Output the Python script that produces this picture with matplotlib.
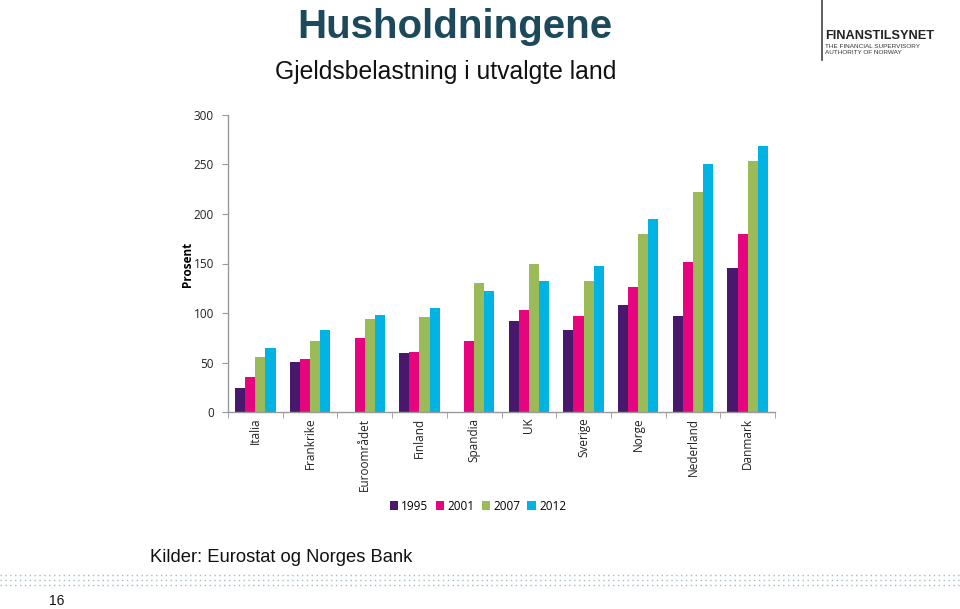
import matplotlib
matplotlib.use("Agg")
import matplotlib.pyplot as plt
import numpy as np

categories = ["Italia", "Frankrike", "Euroområdet", "Finland", "Spandia", "UK",
              "Sverige", "Norge", "Nederland", "Danmark"]
years = ["1995", "2001", "2007", "2012"]
v1995 = [24, 51, np.nan, 60, np.nan, 92, 83, 108, 97, 145]
v2001 = [35, 54, 75, 61, 72, 103, 97, 126, 152, 180]
v2007 = [56, 72, 94, 96, 130, 149, 132, 180, 222, 254]
v2012 = [65, 83, 98, 105, 122, 132, 147, 195, 250, 269]
series = [v1995, v2001, v2007, v2012]
colors = ["#47186B", "#E6057F", "#9BBB59", "#00B3E3"]
yticks = [0, 50, 100, 150, 200, 250, 300]

W, H = 960, 609
fig = plt.figure(figsize=(9.6, 6.09), dpi=100)

def fx(px):
    return px / W

def fy(py):
    return 1 - py / H

left, right, top, bottom = 228, 775, 115, 412
ax = fig.add_axes([fx(left), fy(bottom), fx(right - left), (bottom - top) / H])

x = np.arange(len(categories))
bw = 0.185
for i, (vals, c) in enumerate(zip(series, colors)):
    ax.bar(x + (i - 1.5) * bw, vals, width=bw, color=c, label=years[i], linewidth=0)

ax.set_xlim(-0.5, len(categories) - 0.5)
ax.set_ylim(0, 300)
ax.set_yticks(yticks)
ax.set_yticklabels([str(t) for t in yticks], fontsize=8.5, family="Open Sans", color="#222222")
ax.set_xticks(x)
ax.set_xticklabels(categories, rotation=90, fontsize=8.5, family="Open Sans", color="#222222", va="top")
ax.set_xticks(np.arange(-0.5, len(categories), 1), minor=True)
ax.tick_params(axis="x", which="major", length=0, pad=4)
ax.tick_params(axis="x", which="minor", length=4, color="#999999", direction="out")
ax.tick_params(axis="y", length=4, color="#999999", direction="out", pad=6)
for s in ["top", "right"]:
    ax.spines[s].set_visible(False)
for s in ["left", "bottom"]:
    ax.spines[s].set_color("#999999")
    ax.spines[s].set_linewidth(1.0)

ax.set_ylabel("Prosent", fontsize=8.5, family="Open Sans", fontweight="bold")
ax.yaxis.set_label_coords(-(228 - 194) / (775 - 228), (412 - 264) / (412 - 115))

leg = fig.legend(loc="center", bbox_to_anchor=(fx(478), fy(506)), ncol=4, frameon=False,
                 prop={"family": "Open Sans", "size": 8.5}, handlelength=0.7, handleheight=0.7,
                 handletextpad=0.3, columnspacing=0.6)

fig.text(fx(455), fy(27), "Husholdningene", ha="center", va="center", fontsize=29,
         fontweight="bold", family="Liberation Sans", color="#1C4A5C")
fig.text(fx(446), fy(72), "Gjeldsbelastning i utvalgte land", ha="center", va="center",
         fontsize=17.8, family="Liberation Sans", color="#111111")
fig.text(fx(150), fy(558), "Kilder: Eurostat og Norges Bank", ha="left", va="center",
         fontsize=13.2, family="Liberation Sans", color="#111111")
fig.text(fx(57), fy(601), "16", ha="center", va="center", fontsize=10,
         family="Liberation Sans", color="#111111")

# logo
fig.add_artist(plt.Line2D([fx(822), fx(822)], [fy(0), fy(60)], color="#444444", lw=1.2))
fig.text(fx(825), fy(36), "FINANSTILSYNET", ha="left", va="center", fontsize=9.2,
         fontweight="bold", family="Liberation Sans", color="#222222")
fig.text(fx(825), fy(46), "THE FINANCIAL SUPERVISORY", ha="left", va="center", fontsize=4.6,
         family="Liberation Sans", color="#333333")
fig.text(fx(825), fy(53), "AUTHORITY OF NORWAY", ha="left", va="center", fontsize=4.6,
         family="Liberation Sans", color="#333333")

# dotted lines
for yy in [575, 580, 585]:
    fig.add_artist(plt.Line2D([0, 1], [fy(yy), fy(yy)], color="#9FBCC6", lw=1.0,
                              linestyle=(0, (1, 2.5))))

fig.savefig("out.png", dpi=100)
